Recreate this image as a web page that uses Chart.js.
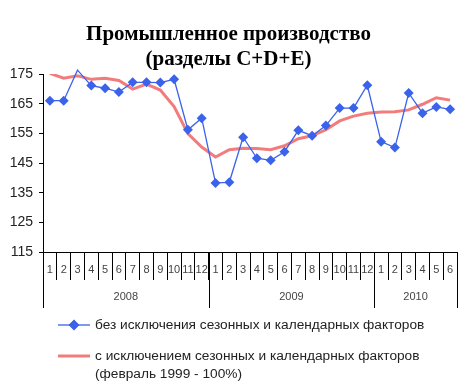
<!DOCTYPE html>
<html>
<head>
<meta charset="utf-8">
<script src="https://cdn.jsdelivr.net/npm/chart.js@4.4.1/dist/chart.umd.min.js"></script>
<style>
  html, body { margin: 0; padding: 0; background: #fff; }
  #wrap { position: relative; width: 463px; height: 388px; }
</style>
</head>
<body>
<div id="wrap"><canvas id="chart" width="463" height="388"></canvas></div>
<script>
// data
const monthLabels = ['1','2','3','4','5','6','7','8','9','10','11','12',
                     '1','2','3','4','5','6','7','8','9','10','11','12',
                     '1','2','3','4','5','6'];
const years = ['2008', '2009', '2010'];
const yearSpans = [12, 12, 6];

const rawValues = [166.0, 166.0, 176.3, 171.1, 170.2, 168.9, 172.2, 172.2, 172.1, 173.2, 156.2, 160.1,
                   138.3, 138.5, 153.7, 146.6, 145.9, 148.8, 156.0, 154.2, 157.6, 163.5, 163.5, 171.2,
                   152.2, 150.2, 168.6, 161.8, 163.9, 163.1];
const adjValues = [175.2, 173.6, 174.4, 173.2, 173.6, 172.8, 169.9, 171.6, 169.6, 164.0, 154.9, 150.4,
                   147.0, 149.5, 150.0, 149.9, 149.5, 150.8, 153.2, 154.2, 156.2, 159.2, 160.8, 161.8,
                   162.2, 162.3, 162.9, 164.8, 167.0, 166.2];

const yTicks = [115, 125, 135, 145, 155, 165, 175];
const titleLines = ['Промышленное производство', '(разделы C+D+E)'];
const seriesNames = [
  ['без исключения сезонных и календарных факторов'],
  ['с исключением сезонных и календарных факторов', '(февраль 1999 - 100%)']
];

const BLUE = '#3a62ea';
const PINK = '#f27c7c';
const SANS = "'Liberation Sans', Arial, sans-serif";

// year row under the month labels + legend
const extras = {
  id: 'extras',
  afterDraw(chart) {
    const ctx = chart.ctx;
    const x = chart.scales.x;
    const top = x.top;
    ctx.save();
    ctx.strokeStyle = '#000';
    ctx.lineWidth = 1;
    ctx.fillStyle = '#444';
    ctx.font = '11px ' + SANS;
    ctx.textAlign = 'center';
    ctx.textBaseline = 'middle';
    let start = 0;
    const edges = [start];
    years.forEach((yr, i) => {
      const end = start + yearSpans[i];
      const x0 = x.getPixelForValue(start - 0.5);
      const x1 = x.getPixelForValue(end - 0.5);
      ctx.fillText(yr, (x0 + x1) / 2, top + 45);
      edges.push(end);
      start = end;
    });
    edges.forEach(e => {
      const px = Math.round(x.getPixelForValue(e - 0.5)) + 0.5;
      ctx.beginPath();
      ctx.moveTo(px, top);
      ctx.lineTo(px, top + 56);
      ctx.stroke();
    });

    // legend
    const lx0 = 58, lx1 = 90, tx = 95;
    ctx.textAlign = 'left';
    ctx.fillStyle = '#222';
    ctx.font = '13.7px ' + SANS;

    let ly = 325;
    ctx.strokeStyle = BLUE;
    ctx.lineWidth = 1.3;
    ctx.beginPath();
    ctx.moveTo(lx0, ly); ctx.lineTo(lx1, ly);
    ctx.stroke();
    Chart.helpers.drawPoint(ctx, { pointStyle: 'rectRot', radius: 4.5, borderWidth: 1 }, (lx0 + lx1) / 2, ly);
    ctx.fillStyle = BLUE;
    ctx.fill();
    ctx.fillStyle = '#222';
    seriesNames[0].forEach((t, i) => ctx.fillText(t, tx, ly + i * 18));

    ly = 356;
    ctx.strokeStyle = PINK;
    ctx.lineWidth = 3;
    ctx.beginPath();
    ctx.moveTo(lx0, ly); ctx.lineTo(lx1, ly);
    ctx.stroke();
    seriesNames[1].forEach((t, i) => ctx.fillText(t, tx, ly + i * 18));
    ctx.restore();
  }
};

new Chart(document.getElementById('chart'), {
  type: 'line',
  data: {
    labels: monthLabels,
    datasets: [
      {
        label: seriesNames[1].join(' '),
        data: adjValues,
        borderColor: PINK,
        backgroundColor: PINK,
        borderWidth: 3,
        pointRadius: 0,
        tension: 0,
        order: 2
      },
      {
        label: seriesNames[0].join(' '),
        data: rawValues,
        borderColor: BLUE,
        backgroundColor: BLUE,
        borderWidth: 1.3,
        pointStyle: 'rectRot',
        pointRadius: ctx => ctx.raw > 175 ? 0 : 5,
        pointBorderWidth: 0,
        clip: { left: 5, right: 5, top: 8, bottom: 5 },
        tension: 0,
        order: 1
      }
    ]
  },
  options: {
    responsive: false,
    animation: false,
    layout: { padding: { top: 0, left: 0, right: 6, bottom: 0 } },
    plugins: {
      legend: { display: false },
      tooltip: { enabled: false },
      title: {
        display: true,
        text: titleLines,
        color: '#000',
        font: { family: "'Liberation Serif', 'Times New Roman', serif", size: 21, weight: 'bold', lineHeight: 1.2 },
        padding: { top: 22, bottom: 1.6 }
      }
    },
    scales: {
      x: {
        type: 'category',
        offset: true,
        grid: { offset: true, drawOnChartArea: false, drawTicks: true, tickLength: 28, color: '#000', lineWidth: 1 },
        border: { display: true, color: '#000', width: 1 },
        ticks: { color: '#444', font: { family: SANS, size: 11 }, padding: -17, maxRotation: 0, autoSkip: false },
        afterFit: s => { s.height = 136; }
      },
      y: {
        min: 115,
        max: 175,
        afterBuildTicks: s => { s.ticks = yTicks.map(v => ({ value: v })); },
        grid: { drawOnChartArea: false, drawTicks: true, tickLength: 4, color: '#000' },
        border: { display: true, color: '#000', width: 1 },
        ticks: { color: '#222', font: { family: SANS, size: 14 }, padding: 6 },
        afterFit: s => { s.width = 43; }
      }
    }
  },
  plugins: [extras]
});
</script>
</body>
</html>
